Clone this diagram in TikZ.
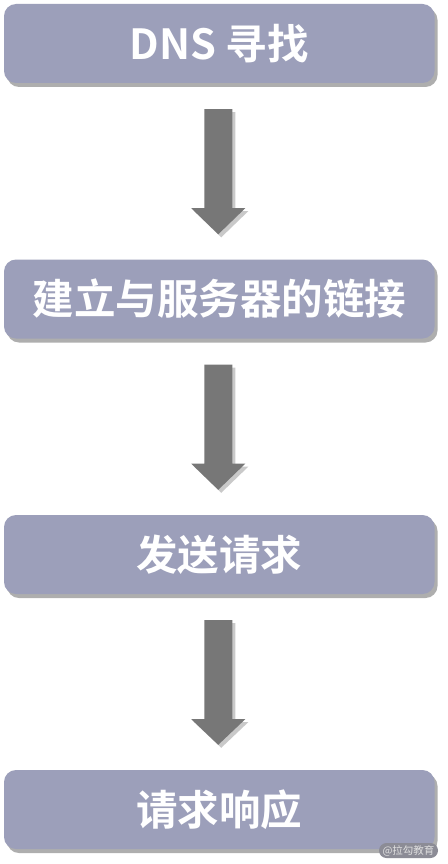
\documentclass[tikz,border=0pt]{standalone}
\usepackage{fontspec}
\newfontfamily\cjkbold{Noto Sans CJK SC Bold}
\newfontfamily\cjk{Noto Sans CJK SC}
\usetikzlibrary{shadows,calc}
\definecolor{boxfill}{HTML}{9C9FBA}
\definecolor{arrowfill}{HTML}{777777}
\definecolor{wmfill}{HTML}{8C8C96}
\tikzset{
  stepbox/.style={fill=boxfill, rounded corners=12pt, minimum width=430.5pt, minimum height=79pt,
    inner sep=0pt, text=white, font=\cjkbold\fontsize{41.5}{46}\selectfont,
    drop shadow={shadow xshift=3pt, shadow yshift=-4pt, opacity=0.45, fill=black!70}},
  blockarrow/.style={fill=arrowfill, drop shadow={shadow xshift=3pt, shadow yshift=-3pt, opacity=0.35, fill=black!60}},
  wmpill/.style={fill=wmfill, rounded corners=7.5pt},
  wmtext/.style={text=white!88!black, inner sep=0pt, font=\cjk\fontsize{10.5}{12}\selectfont}
}
\begin{document}
\begin{tikzpicture}[x=1pt,y=-1pt]
\fill[white] (0,0) rectangle (447,864);
\useasboundingbox (0,0) rectangle (447,864);
\node[stepbox] (b1) at (219.25,43.5) {DNS 寻找};
\node[stepbox] (b2) at (219.25,299) {建立与服务器的链接};
\node[stepbox] (b3) at (219.25,554.5) {发送请求};
\node[stepbox] (b4) at (219.25,809.5) {请求响应};
\foreach \a/\b in {b1/b2,b2/b3,b3/b4}{
  \path[blockarrow] ($(\a.south)+(-15,26)$) -- ++(28,0) -- ++(0,99) -- ++(13,0)
    -- ($(\b.north)+(-1,-25)$) -- ($(\a.south)+(-28,125)$) -- ++(13,0) -- cycle;
}
\fill[wmpill] (379,843) rectangle (438,858);
\node[wmtext] (wm) at (408.5,850.5) {@拉勾教育};
\end{tikzpicture}
\end{document}
